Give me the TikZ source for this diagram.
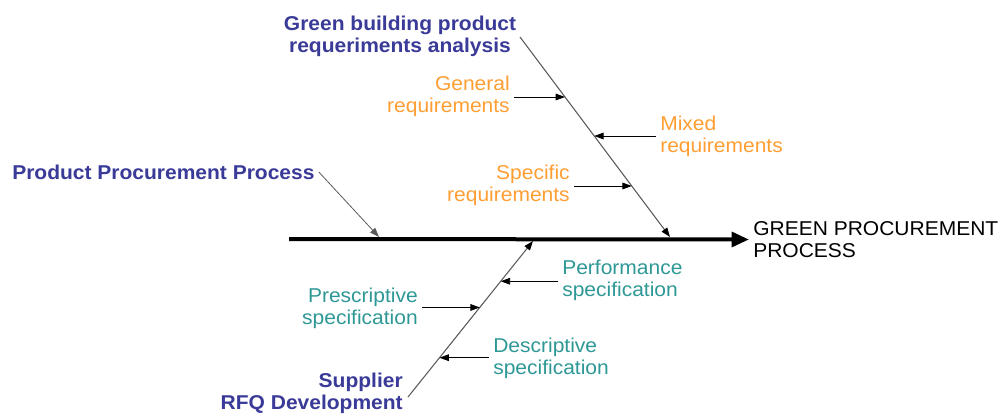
\documentclass[tikz,border=0pt]{standalone}
\usepackage{fontspec}
\setmainfont{Liberation Sans}[FakeStretch=1.05]
\usetikzlibrary{arrows.meta}
\definecolor{cBlue}{HTML}{3A3A98}
\definecolor{cOrange}{HTML}{FF9E33}
\definecolor{cTeal}{HTML}{2E9896}
\definecolor{cBone}{HTML}{5A5A5A}

\begin{document}
\begin{tikzpicture}[
  x=0.75pt, y=-0.75pt,
  lbl/.style={inner sep=3pt, font=\fontsize{15}{16.3}\selectfont},
  headlbl/.style={lbl, text=cBlue, font=\fontsize{15}{16.3}\selectfont\bfseries},
  reqlbl/.style={lbl, text=cOrange},
  speclbl/.style={lbl, text=cTeal},
  spine/.style={-{Triangle[length=13pt,width=11pt]}, line width=3pt},
  bone/.style={-{Triangle[length=7pt,width=5pt,color=black]}, draw=cBone,
               line width=0.8pt},
  arr/.style={-{Triangle[length=7pt,width=5pt]}, line width=0.6pt},
]
\useasboundingbox (0,0) rectangle (999,414);

% labels
\node[headlbl, align=center] (title) at (400,36)
  {Green building product\\requeriments analysis};
\node[headlbl, anchor=west] (ppp) at (8,172) {Product Procurement Process};
\node[headlbl, align=right, anchor=east] (supplier) at (407,393)
  {Supplier\\RFQ Development};
\node[lbl, align=left, anchor=west] (goal) at (749,239.5)
  {GREEN PROCUREMENT\\PROCESS};

\node[reqlbl, align=right, anchor=east] (gen) at (514,96)
  {General\\requirements};
\node[reqlbl, align=left, anchor=west] (mix) at (656,136)
  {Mixed\\requirements};
\node[reqlbl, align=right, anchor=east] (spc) at (574,185)
  {Specific\\requirements};

\node[speclbl, align=left, anchor=west] (per) at (558,280)
  {Performance\\specification};
\node[speclbl, align=right, anchor=east] (pre) at (422,308)
  {Prescriptive\\specification};
\node[speclbl, align=left, anchor=west] (des) at (489,358)
  {Descriptive\\specification};

% spine and bones
\coordinate (tail) at (289,239);
\draw[spine] (tail) -- (goal.west);

\coordinate (utop) at (520,37);
\coordinate (ufoot) at (670,237);
\draw[bone] (utop) -- coordinate[pos=0.3] (gen-pt)
  coordinate[pos=0.495] (mix-pt) coordinate[pos=0.745] (spc-pt) (ufoot);

\coordinate (lfoot) at (408,397);
\coordinate (ltop) at (533,241);
\draw[bone] (lfoot) -- coordinate[pos=0.252] (des-pt)
  coordinate[pos=0.574] (pre-pt) coordinate[pos=0.742] (per-pt) (ltop);

\coordinate (ppp-pt) at (379,237);
\draw[arr, draw=cBone] (ppp.east) -- (ppp-pt);

% small arrows onto the bones
\draw[arr] (gen-pt -| gen.east) -- (gen-pt);
\draw[arr] (mix-pt -| mix.west) -- (mix-pt);
\draw[arr] (spc-pt -| spc.east) -- (spc-pt);
\draw[arr] (per-pt -| per.west) -- (per-pt);
\draw[arr] (pre-pt -| pre.east) -- (pre-pt);
\draw[arr] (des-pt -| des.west) -- (des-pt);

\end{tikzpicture}
\end{document}
